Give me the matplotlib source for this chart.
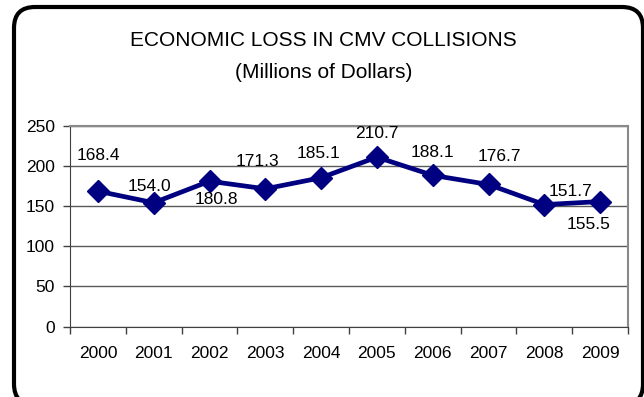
import matplotlib
matplotlib.use("Agg")
import matplotlib.pyplot as plt
from matplotlib.patches import FancyBboxPatch

plt.rcParams["font.family"] = ["Liberation Sans", "DejaVu Sans"]

# Perdida economica anual (millones de dolares)
anios = ["2000", "2001", "2002", "2003", "2004", "2005", "2006", "2007", "2008", "2009"]
perdida = [168.4, 154.0, 180.8, 171.3, 185.1, 210.7, 188.1, 176.7, 151.7, 155.5]
etiquetas = ["168.4", "154.0", "180.8", "171.3", "185.1", "210.7", "188.1", "176.7", "151.7", "155.5"]

# desplazamiento de cada etiqueta respecto a su punto (pixeles)
desplazamientos = [(0, 36), (-4, 16), (7, -18), (-8, 27), (-3, 24),
                   (0, 24), (0, 23), (11, 28), (26, 13), (-12, -23)]

fig = plt.figure(figsize=(6.44, 3.97), dpi=100)

# capa de fondo en pixeles para el marco redondeado (origen abajo a la izquierda)
fondo = fig.add_axes([0, 0, 1, 1], zorder=-1)
fondo.set_xlim(0, 644)
fondo.set_ylim(0, 397)
fondo.axis("off")
marco = FancyBboxPatch((14, -8), 629, 398,
                       boxstyle="round,pad=0,rounding_size=21",
                       fill=False, edgecolor="black", linewidth=3, clip_on=False)
fondo.add_patch(marco)

fig.text(0.502, 1 - 41 / 397, "ECONOMIC LOSS IN CMV COLLISIONS",
         ha="center", va="center", fontsize=15)
fig.text(0.502, 1 - 72 / 397, "(Millions of Dollars)",
         ha="center", va="center", fontsize=15)

ax = fig.add_axes([70 / 644, (397 - 326.7) / 397, 558 / 644, 201.2 / 397])

x = list(range(len(anios)))
ax.plot(x, perdida, color="#000080", linewidth=3.4, marker="D",
        markersize=11, zorder=3)

for xi, yi, txt, (dx, dy) in zip(x, perdida, etiquetas, desplazamientos):
    ax.annotate(txt, (xi, yi), xytext=(dx, dy), textcoords="offset pixels",
                ha="center", va="center", fontsize=12.5, color="black")

ax.set_xlim(-0.5, len(anios) - 0.5)
ax.set_ylim(0, 250)
ax.set_yticks([0, 50, 100, 150, 200, 250])
ax.set_xticks(x)
ax.set_xticklabels(anios)
ax.set_xticks([i - 0.5 for i in range(len(anios) + 1)], minor=True)

ax.tick_params(axis="x", which="major", length=0, pad=14, labelsize=12.5)
ax.tick_params(axis="x", which="minor", length=5, width=1, color="#404040")
ax.tick_params(axis="y", length=5, width=1, color="#404040", pad=6, labelsize=12.5)

ax.yaxis.grid(True, color="#5a5a5a", linewidth=1)
ax.set_axisbelow(True)

ax.spines["left"].set_color("#404040")
ax.spines["bottom"].set_color("#404040")
ax.spines["top"].set_color("#8a8a8a")
ax.spines["right"].set_color("#8a8a8a")
ax.spines["top"].set_linewidth(1.5)
ax.spines["right"].set_linewidth(1.5)

fig.savefig("out.png", dpi=100)
plt.close(fig)
